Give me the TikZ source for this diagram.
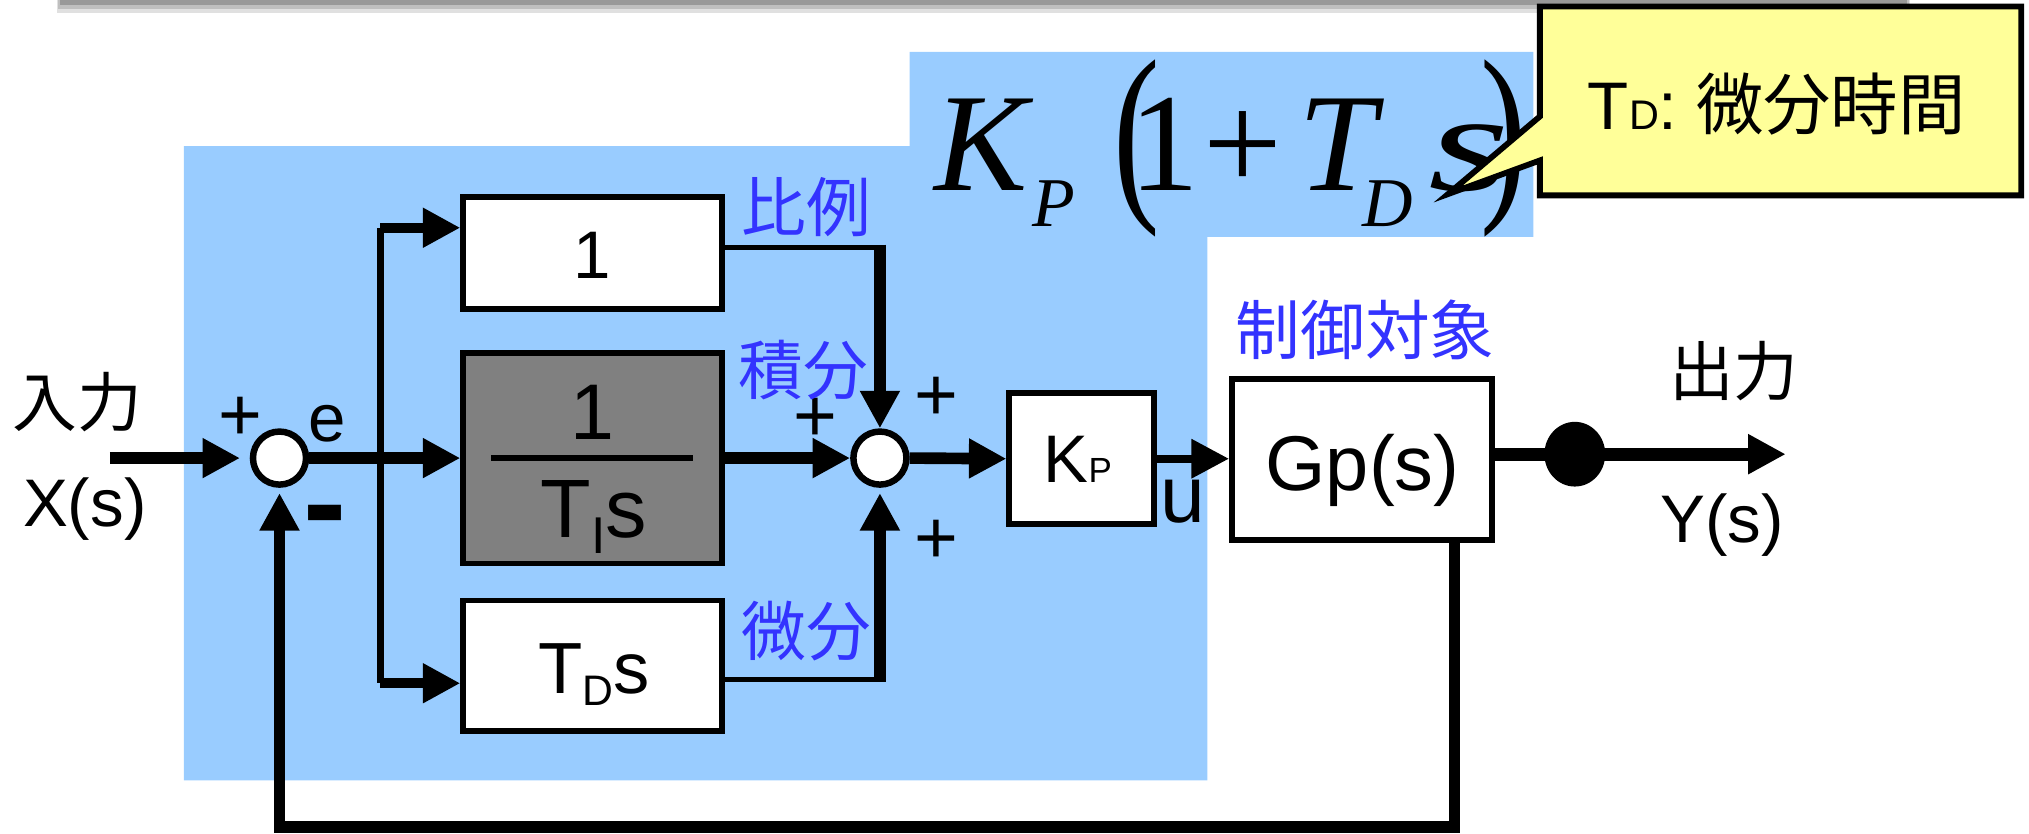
\documentclass[tikz,border=0pt]{standalone}
\usepackage{graphicx}
\usepackage{fontspec}
\setmainfont{Liberation Sans}
\newfontfamily\jpfont{Noto Sans CJK JP}
\newfontfamily\tmsfont{Liberation Serif}
\usetikzlibrary{arrows.meta,shapes.geometric,calc}
\definecolor{panelblue}{HTML}{99CCFF}
\definecolor{notebg}{HTML}{FFFF99}
\definecolor{labelblue}{HTML}{3333FF}
\definecolor{blockgray}{HTML}{808080}
\newcommand\fs[1]{\fontsize{#1}{#1}\selectfont}

\begin{document}
\begin{tikzpicture}[x=1pt,y=-1pt,
  block/.style={draw,line width=4.5pt,fill=white,inner sep=0pt},
  junction/.style={circle,draw,line width=5pt,fill=white,minimum size=41pt,inner sep=0pt},
  sig/.style={line width=#1,-{Triangle[length=29pt,width=29pt]}},
  sig/.default=9pt,
  wire/.style={line width=#1},
  wire/.default=4pt,
  txt/.style={inner sep=0pt,font=\fs{52}},
  jp/.style={inner sep=0pt,font=\jpfont\fs{50}},
  bluejp/.style={jp,text=labelblue},
  sign/.style={inner sep=0pt,font=\fs{58}},
]
\useasboundingbox (0,0) rectangle (1568,644);

% shadow of the title bar above
\fill[black!12] (44,0) rectangle (1476,10);
\fill[black!25] (45,0) rectangle (1475,7);
\fill[black!40] (46,0) rectangle (1474,4);

% controller area
\fill[panelblue] (142,113) -- (703,113) -- (703,40) -- (1185,40) -- (1185,183)
  -- (933,183) -- (933,603) -- (142,603) -- cycle;

% controller formula
\node[anchor=base west,inner sep=0pt] (fml) at (722,147)
  {\tmsfont\fs{108}\itshape K\kern4pt\raisebox{-28pt}{\fs{54}P}\kern29pt\upshape
   \raisebox{-4pt}{\scalebox{1}[1.4]{(}}\kern-23pt 1\kern3pt+\kern12pt\itshape T\kern-10pt
   \raisebox{-28pt}{\fs{54}D}\kern12pt\scalebox{1.5}[1]{s}\kern-23pt\upshape\raisebox{-4pt}{\scalebox{1}[1.4]{)}}};

% note with pointer
\draw[fill=notebg,line width=4.5pt] (1190,5) -- (1562,5) -- (1562,151) -- (1190,151)
  -- (1190,124) -- (1119,150) -- (1190,90) -- cycle;
\node[anchor=base,inner sep=0pt] (note) at (1373,100)
  {\fs{52}T\fs{32}D\fs{52}: \jpfont 微分時間};

% blocks
\node[block,minimum width=200pt,minimum height=87pt] (p) at (458,195.5) {};
\node[block,fill=blockgray,minimum width=200pt,minimum height=163pt] (i) at (458,354) {};
\node[block,minimum width=200pt,minimum height=101pt] (d) at (458,514.5) {};
\node[block,minimum width=112pt,minimum height=101pt] (kp) at (836,354.5) {};
\node[block,minimum width=201pt,minimum height=124pt] (gp) at (1052.5,355) {};

\node[anchor=base,inner sep=0pt,font=\fs{52}] (ptxt) at (458,215) {1};
\node[anchor=base,inner sep=0pt,font=\fs{61}] (inum) at (458,340) {1};
\draw[line width=5pt] ([xshift=24pt]i.west) -- ([xshift=-25pt]i.east);
\node[anchor=base,inner sep=0pt] (iden) at (459,415)
  {\fs{64}T\raisebox{-13pt}{\fs{40}I}s};
\node[anchor=base,inner sep=0pt] (dtxt) at (459,536)
  {\fs{56}T\raisebox{-9pt}{\fs{33}D}s};
\node[anchor=base,inner sep=0pt] (kptxt) at (833,373) {\fs{52}K\fs{27}P};
\node[anchor=base,inner sep=0pt,font=\fs{60}] (gptxt) at (1053,379) {Gp(s)};

% summing junctions and take-off point
\node[junction] (s1) at (216,354) {};
\node[junction] (s2) at (680,354) {};
\coordinate (tap) at (1217,351);

% signal labels
\node[jp] (inlab) at (60,311) {入力};
\node[anchor=base,txt] (xs) at (65.5,407) {X(s)};
\node[jp] (outlab) at (1340,287) {出力};
\node[anchor=base,txt] (ys) at (1331,419) {Y(s)};
\node[anchor=base,txt] (elab) at (253,341) {e};
\node[anchor=base,inner sep=0pt,font=\fs{62}] (ulab) at (914,404) {u};
\node[anchor=base,inner sep=0pt,font=\bfseries\fs{100}] (minus) at (251,422) {-};
\node[sign] (pl1) at (185.5,324) {+};
\node[sign] (pl2) at (630,324.5) {+};
\node[sign] (pl3) at (724,308) {+};
\node[sign] (pl4) at (724,419) {+};
\node[bluejp] (lp) at (623,160) {比例};
\node[bluejp] (li) at (621,286) {積分};
\node[bluejp] (ld) at (623,488) {微分};
\node[bluejp] (lplant) at (1055,255) {制御対象};

% connectors
\coordinate (xin) at (85,354);
\coordinate (bt) at (294,176);
\coordinate (bb) at (294,528);
\coordinate (c1) at (680,191);
\coordinate (c3) at (680,525);
\coordinate (yout) at (1380,351);
\coordinate (fbr) at (1124,639);
\coordinate (fbl) at (216,639);

\draw[sig,shorten >=7.5pt] (xin) -- (s1.west);
\draw[sig] (s1.east) -- (s1.east -| i.west);
\draw[wire=6pt] (bt) -- (bb);
\draw[sig=8pt] (bt) -- (bt -| p.west);
\draw[sig=8pt] (bb) -- (bb -| d.west);
\draw[wire] (p.east |- c1) -- (c1);
\draw[sig] ($(c1)+(0,-2)$) -- (s2.north);
\draw[sig] (i.east |- s2) -- (s2.west);
\draw[wire] (d.east |- c3) -- (c3);
\draw[sig,shorten >=4pt] ($(c3)+(0,2)$) -- (s2.south);
\draw[sig] (s2.east) -- (kp.west);
\draw[sig=6pt] (kp.east) -- (kp.east -| gp.west);
\draw[sig=10pt] (gp.east |- yout) -- (yout);
\node[ellipse,fill=black,minimum width=47pt,minimum height=50pt,inner sep=0pt] (tapdot) at (tap) {};
\draw[sig,shorten >=4pt] (gp.south -| fbr) -- (fbr) -- (fbl) -- (s1.south);
\end{tikzpicture}
\end{document}
